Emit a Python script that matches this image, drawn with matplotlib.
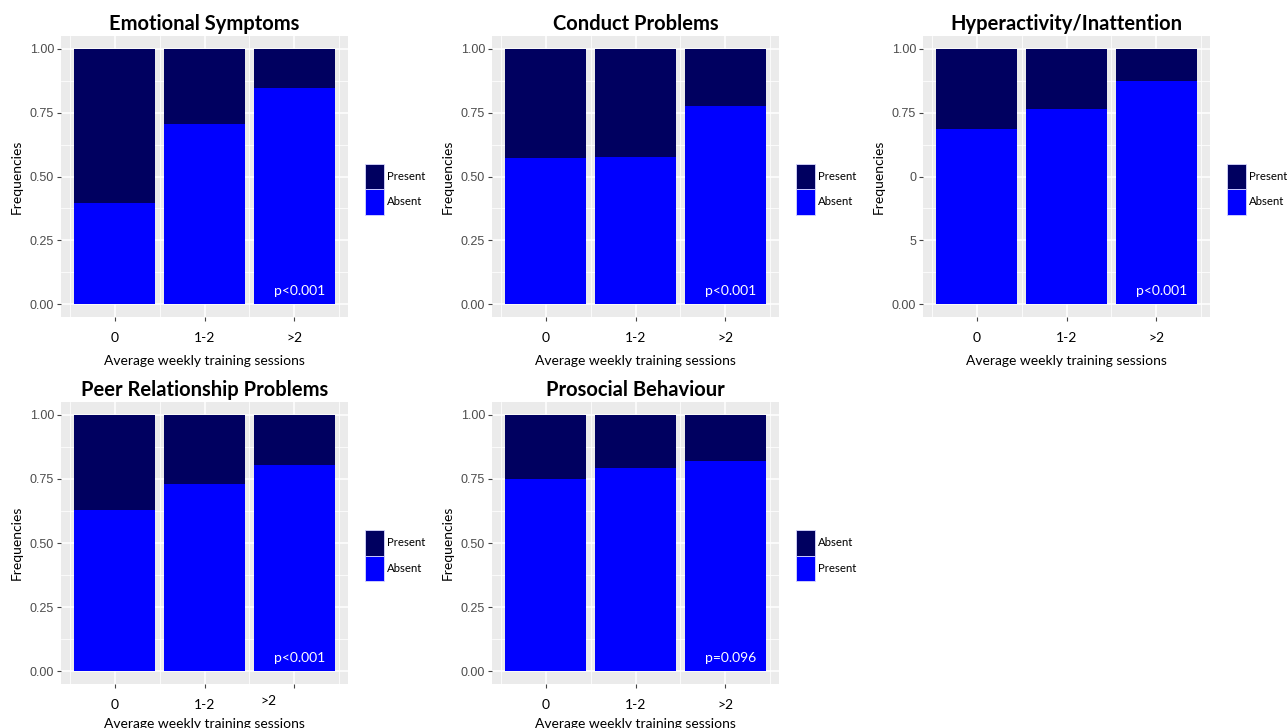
import numpy as np
import matplotlib
matplotlib.use("Agg")
import matplotlib.pyplot as plt
import matplotlib.transforms as mtransforms
from matplotlib.patches import Patch

# data: share of the lower (blue) segment per group
categories = ["0", "1-2", ">2"]

titles = ["Emotional Symptoms", "Conduct Problems", "Hyperactivity/Inattention",
          "Peer Relationship Problems", "Prosocial Behaviour"]

emotional = [0.395, 0.704, 0.845]
conduct = [0.571, 0.578, 0.777]
hyperactivity = [0.684, 0.766, 0.872]
peer = [0.627, 0.732, 0.804]
prosocial = [0.748, 0.791, 0.818]

# legend labels (top = dark segment, bottom = blue segment)
top_labels = ["Present", "Present", "Present", "Present", "Absent"]
bottom_labels = ["Absent", "Absent", "Absent", "Absent", "Present"]

p_values = ["p<0.001", "p<0.001", "p<0.001", "p<0.001", "p=0.096"]

yticks = [0, 0.25, 0.5, 0.75, 1.0]
ytick_labels = ["0.00", "0.25", "0.50", "0.75", "1.00"]
ytick_labels_hyper = ["0.00", "5", "0", "0.75", "1.00"]  # as printed in the original

dark = "#000060"
blue = "#0000FF"
panel_bg = "#EBEBEB"

W, H = 1287, 728
fig = plt.figure(figsize=(W / 100, H / 100), dpi=100)

text_font = ["Lato", "DejaVu Sans"]
tick_font = ["Liberation Sans Narrow", "Liberation Sans", "DejaVu Sans"]

# panel boxes in pixels: left, top, width, height
boxes = [(61, 36, 287, 281), (492, 36, 287, 281), (923, 36, 287, 281),
         (61, 402, 287, 282), (492, 402, 287, 282)]

series = [emotional, conduct, hyperactivity, peer, prosocial]

for k, (vals, box) in enumerate(zip(series, boxes)):
    l, t, w, h = box
    ax = fig.add_axes([l / W, 1 - (t + h) / H, w / W, h / H])
    ax.set_facecolor(panel_bg)
    x = np.arange(len(categories))
    vals = np.array(vals)
    ax.bar(x, vals, width=0.9, color=blue, edgecolor="none", zorder=3)
    ax.bar(x, 1 - vals, bottom=vals, width=0.9, color=dark, edgecolor="none", zorder=3)

    ax.set_xlim(-0.6, 2.6)
    ax.set_ylim(-0.05, 1.05)
    ax.set_yticks(yticks)
    ax.set_yticks([0.125, 0.375, 0.625, 0.875], minor=True)
    ax.set_xticks(x)
    ax.set_xticks([-0.5, 0.5, 1.5, 2.5], minor=True)
    ax.set_xticklabels(categories, family=text_font, fontsize=10, color="black")
    if k == 2:
        ax.set_yticklabels(ytick_labels_hyper, family=tick_font, fontsize=9, color="#4D4D4D")
    else:
        ax.set_yticklabels(ytick_labels, family=tick_font, fontsize=9, color="#4D4D4D")

    ax.grid(which="major", color="white", linewidth=1.1, zorder=0)
    ax.grid(which="minor", color="white", linewidth=0.55, zorder=0)
    ax.set_axisbelow(True)
    for s in ax.spines.values():
        s.set_visible(False)
    ax.tick_params(axis="both", which="major", length=3, width=0.8, color="#444444")
    ax.tick_params(axis="y", pad=2)
    ax.tick_params(axis="x", pad=8)
    ax.tick_params(which="minor", length=0)

    ax.set_xlabel("Average weekly training sessions", family=text_font, fontsize=10,
                  labelpad=7.5 if k < 3 else 5)
    ax.set_ylabel("Frequencies", family=text_font, fontsize=10, labelpad=5)
    ax.set_title(titles[k], family=text_font, fontsize=14.5, fontweight="bold", pad=4)

    ax.text(2.35, 0.05, p_values[k], color="white", ha="right", va="center",
            family=text_font, fontsize=10, zorder=4)

    # the ">2" label in the peer panel sits off its tick in the original
    if k == 3:
        lab = ax.get_xticklabels()[2]
        lab.set_transform(lab.get_transform() +
                          mtransforms.ScaledTranslation(-0.26, 0.04, fig.dpi_scale_trans))

    handles = [Patch(facecolor=dark, edgecolor="#d8d8ff", linewidth=0.6, label=top_labels[k]),
               Patch(facecolor=blue, edgecolor="#d8d8ff", linewidth=0.6, label=bottom_labels[k])]
    ax.legend(handles=handles, loc="center left", bbox_to_anchor=(1.06, 0.455),
              frameon=False, prop={"family": text_font, "size": 8.2},
              handlelength=1.65, handleheight=3.05, labelspacing=0,
              handletextpad=0.25, borderpad=0, borderaxespad=0)

fig.savefig("out.png", dpi=100)
